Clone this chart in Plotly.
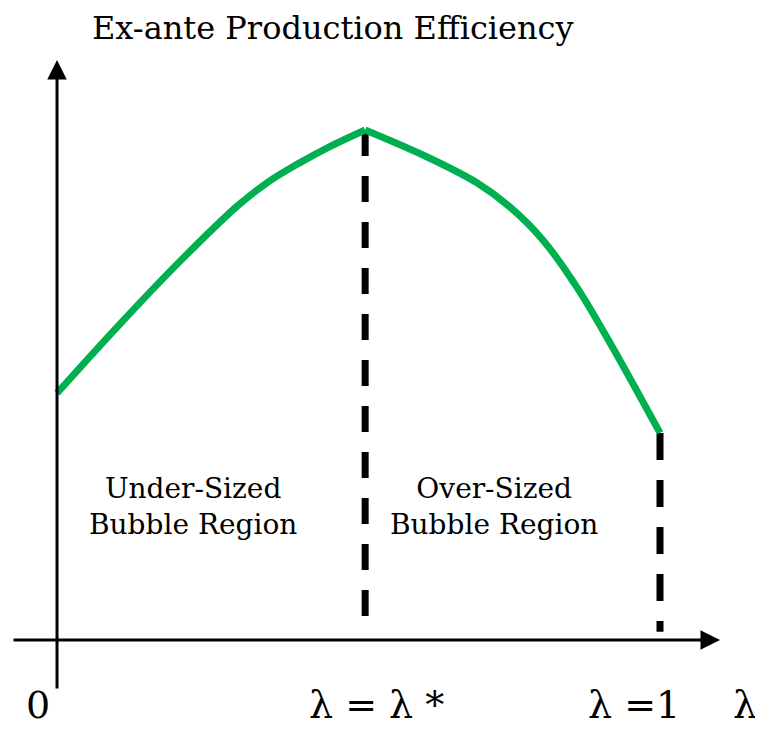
import plotly.graph_objects as go

# ---- data (lambda on x, ex-ante production efficiency on y, peak = 1) ----
lambda_vals = [0.0, 0.1, 0.2, 0.3, 0.35, 0.4, 0.45, 0.511,
               0.614, 0.697, 0.751, 0.806, 0.862, 0.917, 1.0]
efficiency_vals = [0.484, 0.614, 0.738, 0.852, 0.898, 0.934, 0.966, 1.0,
                   0.947, 0.896, 0.849, 0.784, 0.692, 0.583, 0.406]
lambda_star = 0.511
lambda_one = 1.0
peak_eff = 1.0
end_eff = 0.406
dash_bottom_star = 0.039
dash_bottom_one = 0.016

title_text = "Ex-ante Production Efficiency"
region_labels = ["Under-Sized<br>Bubble Region", "Over-Sized<br>Bubble Region"]
tick_labels = ["0", "λ = λ *", "λ =1", "λ"]

FONT = "DejaVu Serif"

fig = go.Figure()

# dashed verticals
fig.add_trace(go.Scatter(x=[lambda_star, lambda_star], y=[peak_eff, dash_bottom_star],
                         mode="lines", line=dict(color="black", width=7, dash="26px,20px"),
                         hoverinfo="skip", showlegend=False))
fig.add_trace(go.Scatter(x=[lambda_one, lambda_one], y=[end_eff, dash_bottom_one],
                         mode="lines", line=dict(color="black", width=7, dash="27px,20px"),
                         hoverinfo="skip", showlegend=False))

# efficiency curve: two smooth branches meeting at a sharp peak
ip = efficiency_vals.index(max(efficiency_vals))
for xs, ys in [(lambda_vals[:ip + 1], efficiency_vals[:ip + 1]),
               (lambda_vals[ip:], efficiency_vals[ip:])]:
    fig.add_trace(go.Scatter(x=xs, y=ys, mode="lines",
                             line=dict(color="#00B050", width=7, shape="spline", smoothing=1.0),
                             hoverinfo="skip", showlegend=False))

# axes with arrows
fig.add_annotation(x=1.0995, y=0.0, ax=-0.0746, ay=0.0, xref="x", yref="y",
                   axref="x", ayref="y", showarrow=True, arrowhead=2, arrowsize=1.3,
                   arrowwidth=3, arrowcolor="black", text="")
fig.add_annotation(x=0.0, y=1.137, ax=0.0, ay=-0.098, xref="x", yref="y",
                   axref="x", ayref="y", showarrow=True, arrowhead=2, arrowsize=1.3,
                   arrowwidth=3, arrowcolor="black", text="")

# texts
fig.add_annotation(x=0.458, y=1.2, xref="x", yref="y", text=title_text, showarrow=False,
                   font=dict(family=FONT, size=32, color="black"))
fig.add_annotation(x=0.2255, y=0.262, xref="x", yref="y", text=region_labels[0],
                   showarrow=False, font=dict(family=FONT, size=28, color="black"))
fig.add_annotation(x=0.725, y=0.262, xref="x", yref="y", text=region_labels[1],
                   showarrow=False, font=dict(family=FONT, size=28, color="black"))

tick_x = [-0.0315, 0.529, 0.957, 1.141]
for tx, tl in zip(tick_x, tick_labels):
    fig.add_annotation(x=tx, y=-0.127, xref="x", yref="y", text=tl, showarrow=False,
                       font=dict(family=FONT, size=38, color="black"))

# the page adds an 8px body margin, so the figure is 8px smaller and ranges are shifted
fig.update_layout(
    width=755, height=721,
    margin=dict(l=0, r=0, t=0, b=0),
    paper_bgcolor="white", plot_bgcolor="white",
    xaxis=dict(range=[-0.0813, 1.1708], visible=False, fixedrange=True),
    yaxis=dict(range=[-0.1745, 1.2392], visible=False, fixedrange=True),
    showlegend=False,
)

fig.write_html("out.html")
